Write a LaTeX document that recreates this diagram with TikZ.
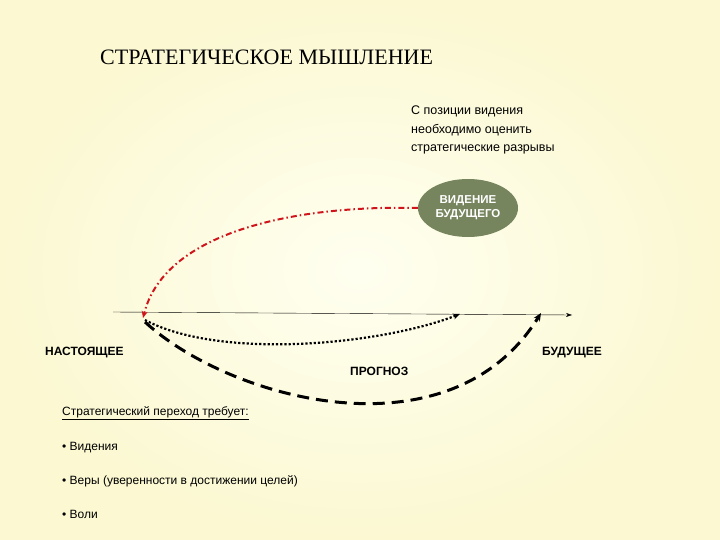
\documentclass[tikz,border=0pt]{standalone}
\usepackage{fontspec}
\setmainfont{Liberation Sans}
\newfontfamily\serifT{Liberation Serif}
\usetikzlibrary{arrows.meta,shapes.geometric}
\definecolor{bgy}{HTML}{FBF8D2}
\definecolor{bgc}{HTML}{FFFFF0}
\definecolor{oval}{HTML}{76855E}
\definecolor{redd}{HTML}{D0141C}
\tikzset{lbl/.style={font=\bfseries\fontsize{12}{14}\selectfont, inner sep=0pt},
 body/.style={font=\fontsize{12}{14}\selectfont, anchor=west, inner sep=0pt}}
\begin{document}
\begin{tikzpicture}[x=1pt,y=-1pt]
\shade[inner color=bgc, outer color=bgy] (0,0) rectangle (720,540);
\useasboundingbox (0,0) rectangle (720,540);
\node[font=\serifT\fontsize{22}{24}\selectfont, anchor=west, inner sep=0pt] (title) at (100,57) {СТРАТЕГИЧЕСКОЕ МЫШЛЕНИЕ};
\node[font=\fontsize{12.5}{18.5}\selectfont, anchor=north west, align=left, inner sep=0pt] (note) at (411,106) {С позиции видения\\необходимо оценить\\стратегические разрывы};
\node[ellipse, fill=oval, minimum width=100, minimum height=58, inner sep=0pt, text=white, font=\bfseries\fontsize{11.5}{14}\selectfont, align=center] (vis) at (468,208) {ВИДЕНИЕ\\БУДУЩЕГО};
\coordinate (a0) at (113,312);
\coordinate (a1) at (572,315);
\coordinate (now) at (143,318);
\coordinate (prog) at (460,314);
\coordinate (fut) at (541,313);
\draw[-{Stealth[length=6,width=4]}] (a0) -- (a1);
\draw[redd, line width=2, dash pattern=on 6 off 3 on 1.5 off 3, -{Stealth[length=7,width=6]}] (vis.west) .. controls (300,205) and (165,230) .. (now);
\draw[line width=2.2, dotted, -{Stealth[length=7,width=6]}] (145,320) .. controls (220,360) and (380,345) .. (prog);
\draw[line width=3, dash pattern=on 12 off 7, -{Stealth[length=8,width=7]}] (145,322) .. controls (230,400) and (450,460) .. (fut);
\node[lbl, anchor=west] (l1) at (45,353) {НАСТОЯЩЕЕ};
\node[lbl, anchor=west] (l2) at (350,371) {ПРОГНОЗ};
\node[lbl, anchor=west] (l3) at (542,353) {БУДУЩЕЕ};
\node[body] (b1) at (62,413) {\underline{Стратегический переход требует:}};
\node[body] (b2) at (62,448) {• Видения};
\node[body] (b3) at (62,481) {• Веры (уверенности в достижении целей)};
\node[body] (b4) at (62,514) {• Воли};
\end{tikzpicture}
\end{document}
